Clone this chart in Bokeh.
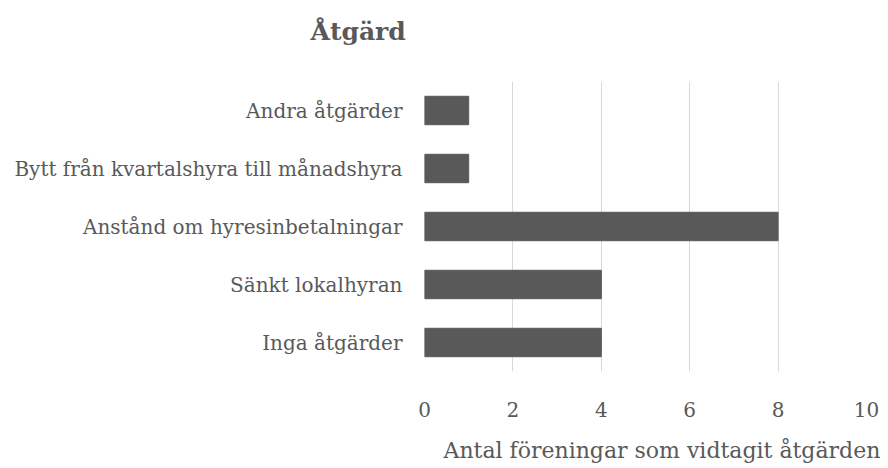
from bokeh.plotting import figure
from bokeh.models import Range1d, FactorRange, FixedTicker, Title
from bokeh.embed import file_html
from bokeh.resources import INLINE

categories = ["Inga åtgärder", "Sänkt lokalhyran", "Anstånd om hyresinbetalningar",
              "Bytt från kvartalshyra till månadshyra", "Andra åtgärder"]
values = [4, 4, 8, 1, 1]
x_ticks = [0, 2, 4, 6, 8, 10]
title_text = "Åtgärd"
x_label = "Antal föreningar som vidtagit åtgärden"

FONT = "DejaVu Serif"
TXT = "#595959"

p = figure(width=888, height=468, output_backend="svg", toolbar_location=None,
           y_range=FactorRange(*categories, range_padding=0), x_range=Range1d(0, 10),
           title=None, min_border_left=424, min_border_right=22,
           min_border_top=81, min_border_bottom=97)

p.hbar(y=categories, right=values, left=0, height=0.49, color="#595959")

# top: spacer next to the frame, then the chart title
p.add_layout(Title(text=" ", text_font=FONT, text_font_size="10px", standoff=23), "above")
p.add_layout(Title(text=title_text, text_font=FONT, text_font_size="25px",
                   text_font_style="bold", text_color=TXT, align="left",
                   offset=-114, standoff=0), "above")

# bottom: spacer under the tick labels, then the axis title
p.add_layout(Title(text=" ", text_font=FONT, text_font_size="10px", standoff=3), "below")
p.add_layout(Title(text=x_label, text_font=FONT, text_font_size="22px",
                   text_font_style="normal", text_color=TXT, align="left",
                   offset=19, standoff=0), "below")

p.xaxis.ticker = FixedTicker(ticks=x_ticks)
for ax in (p.xaxis, p.yaxis):
    ax.axis_line_color = None
    ax.major_tick_line_color = None
    ax.minor_tick_line_color = None
    ax.major_label_text_font = FONT
    ax.major_label_text_color = TXT
    ax.major_label_text_font_size = "20px"
p.xaxis.major_label_standoff = 24
p.yaxis.major_label_standoff = 16

p.xgrid.grid_line_color = "#d9d9d9"
p.xgrid.ticker = FixedTicker(ticks=x_ticks)
p.ygrid.grid_line_color = None
p.outline_line_color = None

open("out.html", "w").write(file_html(p, INLINE))
